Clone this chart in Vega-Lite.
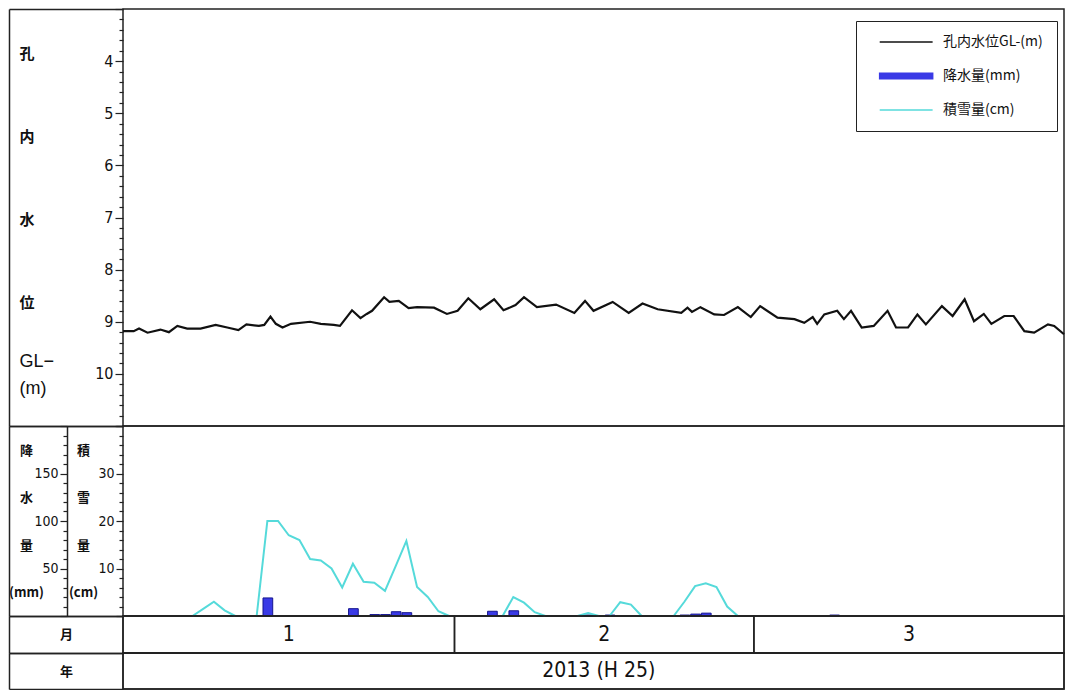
{
  "$schema": "https://vega.github.io/schema/vega-lite/v6.json",
  "padding": {"left": 7, "top": 7, "right": 0, "bottom": 0},
  "background": "white",
  "spacing": 0,
  "bounds": "flush",
  "config": {
    "view": {"stroke": "#222", "strokeWidth": 1.5},
    "axis": {
      "domainColor": "#222", "tickColor": "#222", "labelColor": "#111", "titleColor": "#111",
      "grid": false, "tickWidth": 1.2, "domainWidth": 1.5,
      "labelFont": "Liberation Sans Narrow, DejaVu Sans Condensed, Liberation Sans",
      "labelFontSize": 16,
      "titleFont": "Noto Sans CJK JP", "titleFontWeight": "bold", "titleFontSize": 15
    }
  },
  "datasets": {
    "wl": [
      {"t": "2013-01-01T00:00:00Z", "gl": 9.18}, {"t": "2013-01-02T00:00:00Z", "gl": 9.18}, {"t": "2013-01-02T12:00:00Z", "gl": 9.13},
      {"t": "2013-01-03T07:00:00Z", "gl": 9.21}, {"t": "2013-01-04T12:00:00Z", "gl": 9.15}, {"t": "2013-01-05T07:00:00Z", "gl": 9.2},
      {"t": "2013-01-06T02:00:00Z", "gl": 9.08}, {"t": "2013-01-07T00:00:00Z", "gl": 9.13}, {"t": "2013-01-08T06:00:00Z", "gl": 9.13},
      {"t": "2013-01-09T16:00:00Z", "gl": 9.06}, {"t": "2013-01-10T18:00:00Z", "gl": 9.11}, {"t": "2013-01-11T19:00:00Z", "gl": 9.16},
      {"t": "2013-01-12T13:00:00Z", "gl": 9.05}, {"t": "2013-01-13T17:00:00Z", "gl": 9.08}, {"t": "2013-01-14T05:00:00Z", "gl": 9.06},
      {"t": "2013-01-14T19:00:00Z", "gl": 8.9}, {"t": "2013-01-15T07:00:00Z", "gl": 9.04}, {"t": "2013-01-15T22:00:00Z", "gl": 9.11},
      {"t": "2013-01-16T17:00:00Z", "gl": 9.04}, {"t": "2013-01-18T12:00:00Z", "gl": 9.0}, {"t": "2013-01-19T12:00:00Z", "gl": 9.04},
      {"t": "2013-01-20T17:00:00Z", "gl": 9.06}, {"t": "2013-01-21T07:00:00Z", "gl": 9.08}, {"t": "2013-01-22T10:00:00Z", "gl": 8.78},
      {"t": "2013-01-23T05:00:00Z", "gl": 8.93}, {"t": "2013-01-23T19:00:00Z", "gl": 8.85}, {"t": "2013-01-24T07:00:00Z", "gl": 8.79},
      {"t": "2013-01-25T10:00:00Z", "gl": 8.53}, {"t": "2013-01-25T22:00:00Z", "gl": 8.62}, {"t": "2013-01-26T19:00:00Z", "gl": 8.6},
      {"t": "2013-01-27T17:00:00Z", "gl": 8.74}, {"t": "2013-01-28T12:00:00Z", "gl": 8.72}, {"t": "2013-01-30T02:00:00Z", "gl": 8.73},
      {"t": "2013-01-31T07:00:00Z", "gl": 8.85}, {"t": "2013-02-01T07:00:00Z", "gl": 8.79}, {"t": "2013-02-02T07:00:00Z", "gl": 8.55},
      {"t": "2013-02-03T10:00:00Z", "gl": 8.76}, {"t": "2013-02-04T17:00:00Z", "gl": 8.57}, {"t": "2013-02-05T14:00:00Z", "gl": 8.78},
      {"t": "2013-02-06T17:00:00Z", "gl": 8.68}, {"t": "2013-02-07T12:00:00Z", "gl": 8.53}, {"t": "2013-02-08T17:00:00Z", "gl": 8.72},
      {"t": "2013-02-10T12:00:00Z", "gl": 8.67}, {"t": "2013-02-12T05:00:00Z", "gl": 8.83}, {"t": "2013-02-13T05:00:00Z", "gl": 8.6},
      {"t": "2013-02-14T00:00:00Z", "gl": 8.79}, {"t": "2013-02-15T19:00:00Z", "gl": 8.62}, {"t": "2013-02-17T07:00:00Z", "gl": 8.83},
      {"t": "2013-02-18T14:00:00Z", "gl": 8.65}, {"t": "2013-02-20T00:00:00Z", "gl": 8.76}, {"t": "2013-02-22T05:00:00Z", "gl": 8.83},
      {"t": "2013-02-22T19:00:00Z", "gl": 8.73}, {"t": "2013-02-23T05:00:00Z", "gl": 8.81}, {"t": "2013-02-24T00:00:00Z", "gl": 8.72},
      {"t": "2013-02-25T07:00:00Z", "gl": 8.86}, {"t": "2013-02-26T05:00:00Z", "gl": 8.87}, {"t": "2013-02-27T12:00:00Z", "gl": 8.72},
      {"t": "2013-02-28T17:00:00Z", "gl": 8.91}, {"t": "2013-03-01T14:00:00Z", "gl": 8.7}, {"t": "2013-03-03T05:00:00Z", "gl": 8.92},
      {"t": "2013-03-04T19:00:00Z", "gl": 8.95}, {"t": "2013-03-05T17:00:00Z", "gl": 9.02}, {"t": "2013-03-06T12:00:00Z", "gl": 8.91},
      {"t": "2013-03-06T22:00:00Z", "gl": 9.04}, {"t": "2013-03-07T14:00:00Z", "gl": 8.86}, {"t": "2013-03-08T19:00:00Z", "gl": 8.79},
      {"t": "2013-03-09T10:00:00Z", "gl": 8.95}, {"t": "2013-03-10T02:00:00Z", "gl": 8.79}, {"t": "2013-03-11T02:00:00Z", "gl": 9.11},
      {"t": "2013-03-12T05:00:00Z", "gl": 9.08}, {"t": "2013-03-13T12:00:00Z", "gl": 8.79}, {"t": "2013-03-14T07:00:00Z", "gl": 9.11},
      {"t": "2013-03-15T10:00:00Z", "gl": 9.11}, {"t": "2013-03-16T07:00:00Z", "gl": 8.86}, {"t": "2013-03-17T02:00:00Z", "gl": 9.05},
      {"t": "2013-03-18T14:00:00Z", "gl": 8.7}, {"t": "2013-03-19T14:00:00Z", "gl": 8.89}, {"t": "2013-03-20T17:00:00Z", "gl": 8.57},
      {"t": "2013-03-21T14:00:00Z", "gl": 8.99}, {"t": "2013-03-22T12:00:00Z", "gl": 8.85}, {"t": "2013-03-23T05:00:00Z", "gl": 9.04},
      {"t": "2013-03-24T10:00:00Z", "gl": 8.89}, {"t": "2013-03-25T07:00:00Z", "gl": 8.89}, {"t": "2013-03-26T07:00:00Z", "gl": 9.18},
      {"t": "2013-03-27T05:00:00Z", "gl": 9.21}, {"t": "2013-03-28T12:00:00Z", "gl": 9.05}, {"t": "2013-03-29T02:00:00Z", "gl": 9.08},
      {"t": "2013-03-30T00:00:00Z", "gl": 9.24}
    ],
    "snow": [
      {"t": "2013-01-07T12:00:00Z", "cm": 0, "seg": "a"}, {"t": "2013-01-08T12:00:00Z", "cm": 1.5, "seg": "a"}, {"t": "2013-01-09T12:00:00Z", "cm": 3, "seg": "a"},
      {"t": "2013-01-10T12:00:00Z", "cm": 1.2, "seg": "a"}, {"t": "2013-01-11T12:00:00Z", "cm": 0, "seg": "a"},
      {"t": "2013-01-13T12:00:00Z", "cm": 0, "seg": "b"}, {"t": "2013-01-14T12:00:00Z", "cm": 20, "seg": "b"}, {"t": "2013-01-15T12:00:00Z", "cm": 20, "seg": "b"},
      {"t": "2013-01-16T12:00:00Z", "cm": 17, "seg": "b"}, {"t": "2013-01-17T12:00:00Z", "cm": 16, "seg": "b"}, {"t": "2013-01-18T12:00:00Z", "cm": 12, "seg": "b"},
      {"t": "2013-01-19T12:00:00Z", "cm": 11.7, "seg": "b"}, {"t": "2013-01-20T12:00:00Z", "cm": 10, "seg": "b"}, {"t": "2013-01-21T12:00:00Z", "cm": 6, "seg": "b"},
      {"t": "2013-01-22T12:00:00Z", "cm": 11, "seg": "b"}, {"t": "2013-01-23T12:00:00Z", "cm": 7.2, "seg": "b"}, {"t": "2013-01-24T12:00:00Z", "cm": 7, "seg": "b"},
      {"t": "2013-01-25T12:00:00Z", "cm": 5.3, "seg": "b"}, {"t": "2013-01-26T12:00:00Z", "cm": 10.5, "seg": "b"}, {"t": "2013-01-27T12:00:00Z", "cm": 15.8, "seg": "b"},
      {"t": "2013-01-28T12:00:00Z", "cm": 6.1, "seg": "b"}, {"t": "2013-01-29T12:00:00Z", "cm": 4, "seg": "b"}, {"t": "2013-01-30T12:00:00Z", "cm": 1, "seg": "b"},
      {"t": "2013-01-31T12:00:00Z", "cm": 0, "seg": "b"},
      {"t": "2013-02-05T12:00:00Z", "cm": 0, "seg": "c"}, {"t": "2013-02-06T12:00:00Z", "cm": 4, "seg": "c"}, {"t": "2013-02-07T12:00:00Z", "cm": 2.8, "seg": "c"},
      {"t": "2013-02-08T12:00:00Z", "cm": 0.8, "seg": "c"}, {"t": "2013-02-09T12:00:00Z", "cm": 0, "seg": "c"},
      {"t": "2013-02-12T12:00:00Z", "cm": 0, "seg": "d"}, {"t": "2013-02-13T12:00:00Z", "cm": 0.6, "seg": "d"}, {"t": "2013-02-14T12:00:00Z", "cm": 0, "seg": "d"},
      {"t": "2013-02-15T12:00:00Z", "cm": 0, "seg": "e"}, {"t": "2013-02-16T12:00:00Z", "cm": 2.9, "seg": "e"}, {"t": "2013-02-17T12:00:00Z", "cm": 2.4, "seg": "e"},
      {"t": "2013-02-18T12:00:00Z", "cm": 0, "seg": "e"},
      {"t": "2013-02-21T12:00:00Z", "cm": 0, "seg": "f"}, {"t": "2013-02-22T12:00:00Z", "cm": 3, "seg": "f"}, {"t": "2013-02-23T12:00:00Z", "cm": 6.3, "seg": "f"},
      {"t": "2013-02-24T12:00:00Z", "cm": 6.9, "seg": "f"}, {"t": "2013-02-25T12:00:00Z", "cm": 6.1, "seg": "f"}, {"t": "2013-02-26T12:00:00Z", "cm": 2, "seg": "f"},
      {"t": "2013-02-27T12:00:00Z", "cm": 0, "seg": "f"}
    ],
    "precip": [
      {"date": "2013-01-14", "mm": 19}, {"date": "2013-01-22", "mm": 7.7}, {"date": "2013-01-24", "mm": 1.5},
      {"date": "2013-01-25", "mm": 1.5}, {"date": "2013-01-26", "mm": 4.5}, {"date": "2013-01-27", "mm": 3.5},
      {"date": "2013-02-04", "mm": 5}, {"date": "2013-02-06", "mm": 5.5}, {"date": "2013-02-13", "mm": 1},
      {"date": "2013-02-15", "mm": 1}, {"date": "2013-02-22", "mm": 1}, {"date": "2013-02-23", "mm": 2},
      {"date": "2013-02-24", "mm": 3}, {"date": "2013-03-08", "mm": 1}
    ],
    "months": [
      {"row": "月", "m": "1", "start": "2013-01-01T00:00:00Z", "end": "2013-02-01T00:00:00Z", "mid": "2013-01-16T12:00:00Z"},
      {"row": "月", "m": "2", "start": "2013-02-01T00:00:00Z", "end": "2013-03-01T00:00:00Z", "mid": "2013-02-15T00:00:00Z"},
      {"row": "月", "m": "3", "start": "2013-03-01T00:00:00Z", "end": "2013-03-30T00:00:00Z", "mid": "2013-03-15T12:00:00Z"}
    ],
    "years": [
      {"row": "年", "label": "2013 (H 25)", "start": "2013-01-01T00:00:00Z", "end": "2013-03-30T00:00:00Z", "mid": "2013-02-14T12:00:00Z"}
    ]
  },
  "vconcat": [
    {
      "width": 941, "height": 417,
      "layer": [
        {
          "data": {"name": "wl"},
          "mark": {"type": "line", "strokeWidth": 2.2},
          "encoding": {
            "x": {"field": "t", "type": "temporal", "scale": {"type": "utc", "domain": [{"year": 2013, "month": 1, "date": 1, "utc": true}, {"year": 2013, "month": 3, "date": 30, "utc": true}]}, "axis": null},
            "y": {
              "field": "gl", "type": "quantitative",
              "scale": {"domain": [3, 11], "reverse": true, "nice": false, "zero": false},
              "axis": {
                "orient": "left", "domain": false,
                "values": [3, 3.2, 3.4, 3.6, 3.8, 4, 4.2, 4.4, 4.6, 4.8, 5, 5.2, 5.4, 5.6, 5.8, 6, 6.2, 6.4, 6.6, 6.8, 7, 7.2, 7.4, 7.6, 7.8, 8, 8.2, 8.4, 8.6, 8.8, 9, 9.2, 9.4, 9.6, 9.8, 10, 10.2, 10.4, 10.6, 10.8, 11],
                "labelExpr": "(datum.value % 1 === 0 && datum.value >= 4 && datum.value <= 10) ? format(datum.value, 'd') : ''",
                "tickSize": {"condition": {"test": "datum.value % 1 === 0", "value": 8}, "value": 4},
                "labelPadding": 2,
                "title": ["孔", "内", "水", "位"],
                "titleAngle": 0, "titleAlign": "left", "titleBaseline": "top",
                "titleX": -104, "titleY": 37, "titleLineHeight": 83
              }
            },
            "color": {
              "datum": "孔内水位GL-(m)", "type": "nominal",
              "scale": {"domain": ["孔内水位GL-(m)", "降水量(mm)", "積雪量(cm)"], "range": ["#111111", "#3a3ae6", "#55dada"]},
              "legend": {
                "title": null, "orient": "none", "legendX": 733, "legendY": 12,
                "strokeColor": "#222", "padding": 14, "symbolOffset": 8,
                "rowPadding": 20, "symbolSize": 112, "symbolStrokeWidth": 1.6,
                "labelOffset": 51, "labelFont": "Noto Sans CJK JP", "labelFontSize": 14, "labelColor": "#111",
                "symbolType": "M-1,0H9",
                "encode": {
                  "symbols": {
                    "update": {
                      "shape": {"signal": "datum.value === '降水量(mm)' ? 'M-1,-0.5H9V0.5H-1Z' : 'M-1,0H9'"},
                      "fill": {"signal": "datum.value === '降水量(mm)' ? '#3a3ae6' : 'transparent'"},
                      "stroke": {"signal": "datum.value === '降水量(mm)' ? '#15158f' : (datum.value === '積雪量(cm)' ? '#55dada' : '#111111')"}
                    }
                  }
                }
              }
            }
          }
        },
        {
          "data": {"name": "wl"},
          "mark": {"type": "line", "opacity": 0},
          "encoding": {
            "x": {"field": "t", "type": "temporal", "axis": null},
            "y": {
              "field": "gl", "type": "quantitative",
              "axis": {
                "orient": "left", "offset": 114, "values": [3, 11], "tickSize": -114, "tickWidth": 1.5, "labels": false, "domain": true,
                "title": ["GL−", "(m)"],
                "titleAngle": 0, "titleAlign": "left", "titleBaseline": "top", "titleFontSize": 18,
                "titleFont": "Liberation Sans, Noto Sans CJK JP", "titleFontWeight": "normal",
                "titleX": 10, "titleY": 343, "titleLineHeight": 27
              }
            }
          }
        }
      ],
      "resolve": {"axis": {"y": "independent"}}
    },
    {
      "width": 941, "height": 190,
      "layer": [
        {
          "data": {"name": "precip"},
          "mark": {"type": "bar", "fill": "#3a3ae6", "stroke": "#15158f", "strokeWidth": 1},
          "encoding": {
            "x": {"field": "date", "timeUnit": "utcyearmonthdate", "type": "temporal", "scale": {"type": "utc", "domain": [{"year": 2013, "month": 1, "date": 1, "utc": true}, {"year": 2013, "month": 3, "date": 30, "utc": true}]}, "axis": null},
            "y": {
              "field": "mm", "type": "quantitative",
              "scale": {"domain": [0, 200], "nice": false},
              "axis": {
                "orient": "left", "offset": 56, "domain": true,
                "values": [0, 10, 20, 30, 40, 50, 60, 70, 80, 90, 100, 110, 120, 130, 140, 150, 160, 170, 180, 190, 200],
                "labelExpr": "(datum.value % 50 === 0 && datum.value > 0 && datum.value < 200) ? format(datum.value, 'd') : ''",
                "tickSize": {"condition": {"test": "datum.value % 50 === 0", "value": 7}, "value": 4},
                "labelPadding": 2, "labelFontSize": 14,
                "title": ["降", "水", "量", "(mm)"],
                "titleAngle": 0, "titleAlign": "center", "titleBaseline": "top", "titleFontSize": 13,
                "titleX": -41, "titleY": 18, "titleLineHeight": 47.6
              }
            }
          }
        },
        {
          "data": {"name": "snow"},
          "mark": {"type": "line", "color": "#55dada", "strokeWidth": 2},
          "encoding": {
            "x": {"field": "t", "type": "temporal", "axis": null},
            "y": {
              "field": "cm", "type": "quantitative",
              "scale": {"domain": [0, 40], "nice": false},
              "axis": {
                "orient": "left", "offset": 0, "domain": false,
                "values": [0, 2, 4, 6, 8, 10, 12, 14, 16, 18, 20, 22, 24, 26, 28, 30, 32, 34, 36, 38, 40],
                "labelExpr": "(datum.value % 10 === 0 && datum.value > 0 && datum.value < 40) ? format(datum.value, 'd') : ''",
                "tickSize": {"condition": {"test": "datum.value % 10 === 0", "value": 7}, "value": 4},
                "labelPadding": 2, "labelFontSize": 14,
                "title": ["積", "雪", "量", "(cm)"],
                "titleAngle": 0, "titleAlign": "center", "titleBaseline": "top", "titleFontSize": 13,
                "titleX": -40, "titleY": 18, "titleLineHeight": 47.6
              }
            },
            "detail": {"field": "seg", "type": "nominal"}
          }
        },
        {
          "data": {"name": "snow"},
          "mark": {"type": "line", "opacity": 0},
          "encoding": {
            "x": {"field": "t", "type": "temporal", "axis": null},
            "y": {
              "field": "cm", "type": "quantitative",
              "scale": {"domain": [0, 40], "nice": false},
              "axis": {"orient": "left", "offset": 114, "values": [0, 40], "tickSize": -114, "tickWidth": 1.5, "labels": false, "title": null, "domain": true}
            },
            "detail": {"field": "seg", "type": "nominal"}
          }
        }
      ],
      "resolve": {"scale": {"y": "independent"}, "axis": {"y": "independent"}}
    },
    {
      "width": 941, "height": 37,
      "data": {"name": "months"},
      "encoding": {
        "y": {
          "field": "row", "type": "nominal",
          "scale": {"paddingInner": 0, "paddingOuter": 0},
          "axis": {"orient": "left", "offset": 114, "tickBand": "extent", "tickSize": -114, "tickWidth": 1.5, "labelPadding": 57, "labelAlign": "center", "labelFont": "Noto Sans CJK JP", "labelFontWeight": "bold", "labelFontSize": 13, "title": null, "domain": true}
        }
      },
      "layer": [
        {
          "mark": {"type": "rect", "fillOpacity": 0, "stroke": "#222", "strokeWidth": 1.5},
          "encoding": {
            "x": {"field": "start", "type": "temporal", "scale": {"type": "utc", "domain": [{"year": 2013, "month": 1, "date": 1, "utc": true}, {"year": 2013, "month": 3, "date": 30, "utc": true}]}, "axis": null},
            "x2": {"field": "end"}
          }
        },
        {
          "mark": {"type": "text", "fontSize": 21, "font": "Liberation Sans Narrow, DejaVu Sans Condensed, Liberation Sans", "color": "#111"},
          "encoding": {
            "x": {"field": "mid", "type": "temporal", "axis": null},
            "text": {"field": "m"}
          }
        }
      ]
    },
    {
      "width": 941, "height": 36,
      "data": {"name": "years"},
      "encoding": {
        "y": {
          "field": "row", "type": "nominal",
          "scale": {"paddingInner": 0, "paddingOuter": 0},
          "axis": {"orient": "left", "offset": 114, "tickBand": "extent", "tickSize": -114, "tickWidth": 1.5, "labelPadding": 57, "labelAlign": "center", "labelFont": "Noto Sans CJK JP", "labelFontWeight": "bold", "labelFontSize": 13, "title": null, "domain": true}
        }
      },
      "layer": [
        {
          "mark": {"type": "rect", "fillOpacity": 0, "stroke": "#222", "strokeWidth": 1.5},
          "encoding": {
            "x": {"field": "start", "type": "temporal", "scale": {"type": "utc", "domain": [{"year": 2013, "month": 1, "date": 1, "utc": true}, {"year": 2013, "month": 3, "date": 30, "utc": true}]}, "axis": null},
            "x2": {"field": "end"}
          }
        },
        {
          "mark": {"type": "text", "fontSize": 21, "font": "Liberation Sans Narrow, DejaVu Sans Condensed, Liberation Sans", "color": "#111"},
          "encoding": {
            "x": {"field": "mid", "type": "temporal", "axis": null},
            "text": {"field": "label"}
          }
        }
      ]
    }
  ]
}
